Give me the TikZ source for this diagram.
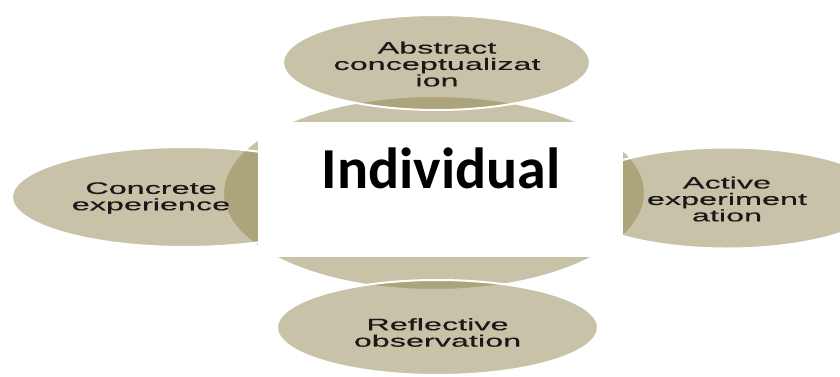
\documentclass[tikz,border=0pt]{standalone}
\usepackage{xcolor}
\usepackage{fontspec}
\usepackage{tikz}
\usetikzlibrary{shapes.geometric, positioning, backgrounds}
\newfontfamily\petalfont[FakeStretch=1.95, FakeBold=0.4]{Liberation Sans}
\newfontfamily\hubfont{Carlito}
\definecolor{petalfill}{RGB}{143,133,78}
\definecolor{petaltext}{RGB}{25,25,25}
\tikzset{
  petal/.style={ellipse, draw=white, line width=1pt, fill=petalfill,
    fill opacity=0.49, inner sep=0pt},
  petallabel/.style={align=center, text=petaltext, inner sep=0pt,
    font=\petalfont\fontsize{8.3}{8.2}\selectfont},
  hubbox/.style={fill=white, draw=none},
  hublabel/.style={font=\hubfont\bfseries\fontsize{29}{32}\selectfont, inner sep=0pt}
}

\begin{document}
\begin{tikzpicture}[x=0.5pt, y=0.5pt]
  \useasboundingbox (0,0) rectangle (840,376);

  % Central ellipse behind everything
  \node[petal, minimum width=211pt, minimum height=97pt] (hub) at (434,183) {};

  % Four learning stages around it
  \node[petal, minimum width=153.5pt, minimum height=47.5pt] (abstract) at (436.5,313.5) {};
  \node[petal, minimum width=160.5pt, minimum height=47.5pt] (reflective) at (437.5,48.5) {};
  \node[petal, minimum width=173pt, minimum height=50pt] (concrete) at (185,179) {};
  \node[petal, minimum width=158pt, minimum height=50.5pt] (active) at (727,178) {};

  % White panel over the middle
  \fill[hubbox] (258,119) rectangle (623,254);
  \node[hublabel, anchor=base] (individual) at (441,188) {Individual};

  % Stage labels
  \node[petallabel] (abstracttext) at (437,312) {Abstract\\conceptualizat\\ion};
  \node[petallabel] (reflectivetext) at (437.5,43.5) {Reflective\\observation};
  \node[petallabel] (concretetext) at (151,178) {Concrete\\experience};
  \node[petallabel] (activetext) at (727,177) {Active\\experiment\\ation};
\end{tikzpicture}
\end{document}
